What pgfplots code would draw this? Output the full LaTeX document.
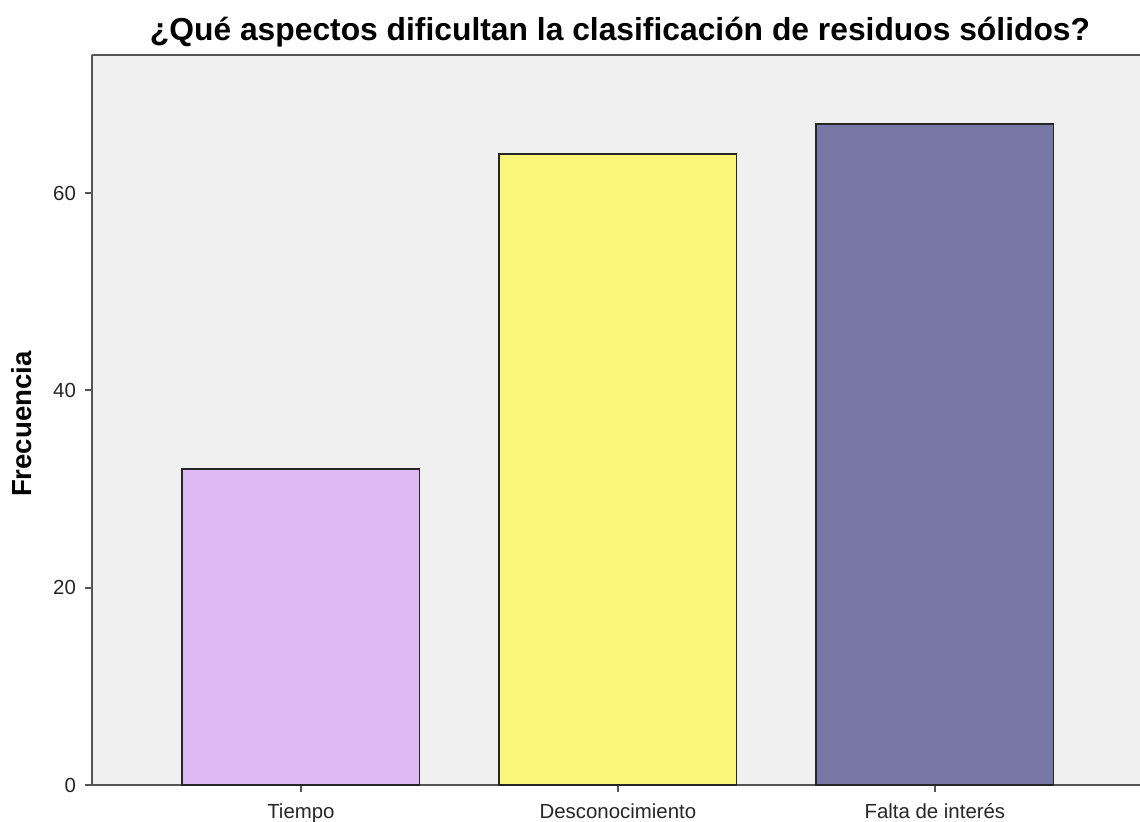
\documentclass[border=0pt]{standalone}
\usepackage{pgfplots}
\pgfplotsset{compat=1.18}
\usepackage{fontspec}
\setmainfont{Liberation Sans}
\definecolor{bgc}{HTML}{F0F0F0}
\definecolor{cpink}{HTML}{DFB9F3}
\definecolor{cyellow}{HTML}{FAF67A}
\definecolor{cpurple}{HTML}{7878A6}
\definecolor{axc}{HTML}{555555}
\begin{document}
\begin{tikzpicture}
\path[use as bounding box] (0,0) rectangle (570pt,410.5pt);
\begin{axis}[
  at={(46pt,18pt)}, anchor=south west,
  scale only axis, width=524pt, height=365pt,
  xmin=-0.659, xmax=2.647, ymin=0, ymax=74,
  axis lines*=left,
  axis line style={axc, line width=1.2pt, -},
  axis background/.style={fill=bgc},
  ybar, bar shift=0pt, bar width=0.748,
  xtick={0,1,2},
  xticklabels={Tiempo, Desconocimiento, Falta de interés},
  ytick={0,20,40,60},
  tick align=outside,
  major tick length=3.5pt,
  every tick/.style={axc, line width=1pt},
  tick label style={font=\fontsize{10.2}{12}\selectfont, text=black!85},
  /pgf/number format/assume math mode=true,
  xticklabel style={yshift=-1.5pt, text height=8pt, text depth=2pt},
  yticklabel style={xshift=-1pt},
  ylabel={\textbf{Frecuencia}},
  ylabel style={font=\fontsize{13.8}{15}\selectfont, at={(axis description cs:0,0.5)}, anchor=center, yshift=35pt, xshift=-2pt},
  clip=false,
]
\addplot[fill=cpink, draw=black!85, line width=0.9pt] coordinates {(0,32)};
\addplot[fill=cyellow, draw=black!85, line width=0.9pt] coordinates {(1,64)};
\addplot[fill=cpurple, draw=black!85, line width=0.9pt] coordinates {(2,67)};
\draw[axc, line width=1.2pt] (rel axis cs:0,1) -- (rel axis cs:1,1);
\node[font=\fontsize{15.9}{18}\selectfont\bfseries, anchor=base, inner sep=0pt]
  at ([xshift=2pt, yshift=7.5pt]rel axis cs:0.5,1)
  {¿Qué aspectos dificultan la clasificación de residuos sólidos?};
\end{axis}
\end{tikzpicture}
\end{document}
